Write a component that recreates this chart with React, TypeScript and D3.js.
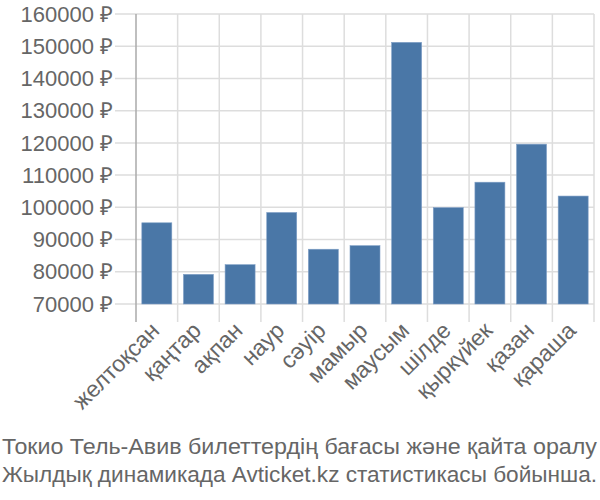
import React from "react";
import * as d3 from "d3";

const months = ["желтоқсан", "қаңтар", "ақпан", "наур", "сәуір", "мамыр", "маусым", "шілде", "қыркүйек", "қазан", "қараша"];
const prices = [95200, 79200, 82200, 98400, 87000, 88100, 151200, 99900, 107800, 119600, 103500];
const yTicks = [70000, 80000, 90000, 100000, 110000, 120000, 130000, 140000, 150000, 160000];
const caption = ["Токио Тель-Авив билеттердің бағасы және қайта оралу", "Жылдық динамикада Avticket.kz статистикасы бойынша."];

const W = 600, H = 500;
const left = 136, right = 594, top = 14, bottom = 304;
const font = "'Liberation Sans', Arial, sans-serif";

export default function App() {
  const x = d3.scaleBand<string>().domain(months).range([left, right]).paddingInner(0.28).paddingOuter(0.14);
  const y = d3.scaleLinear().domain([70000, 160000]).range([bottom, top]);
  const step = x.step();
  return (
    <svg width={W} height={H} style={{ position: "absolute", left: 0, top: 0, background: "#fff" }}>
      {yTicks.map((t) => (
        <g key={t}>
          <line x1={115} x2={right} y1={y(t)} y2={y(t)} stroke="#dddddd" strokeWidth={1.5} />
          <text x={113} y={y(t)} dy="0.35em" textAnchor="end" fontSize={22} fill="#666" fontFamily={font}>
            {t} ₽
          </text>
        </g>
      ))}
      {months.map((m, i) => (
        <line key={m} x1={left + (i + 1) * step} x2={left + (i + 1) * step} y1={top} y2={322} stroke="#dddddd" strokeWidth={1.5} />
      ))}
      {months.map((m, i) => (
        <rect key={m} x={x(m)} y={y(prices[i])} width={x.bandwidth()} height={bottom - y(prices[i])} fill="#4a77a7" stroke="#7f9fc6" strokeWidth={0.6} />
      ))}
      <line x1={left} x2={left} y1={top} y2={322} stroke="#aaaaaa" strokeWidth={1.5} />
      {months.map((m) => {
        const cx = (x(m) as number) + x.bandwidth() / 2;
        return (
          <text key={m} transform={`translate(${cx + 4},${332}) rotate(-45)`} textAnchor="end" fontSize={23} fill="#666" fontFamily={font}>
            {m}
          </text>
        );
      })}
      {caption.map((c, i) => (
        <text key={i} x={2} y={454 + i * 28} fontSize={22} fill="#666" fontFamily={font} textLength={595} lengthAdjust="spacingAndGlyphs">
          {c}
        </text>
      ))}
    </svg>
  );
}
